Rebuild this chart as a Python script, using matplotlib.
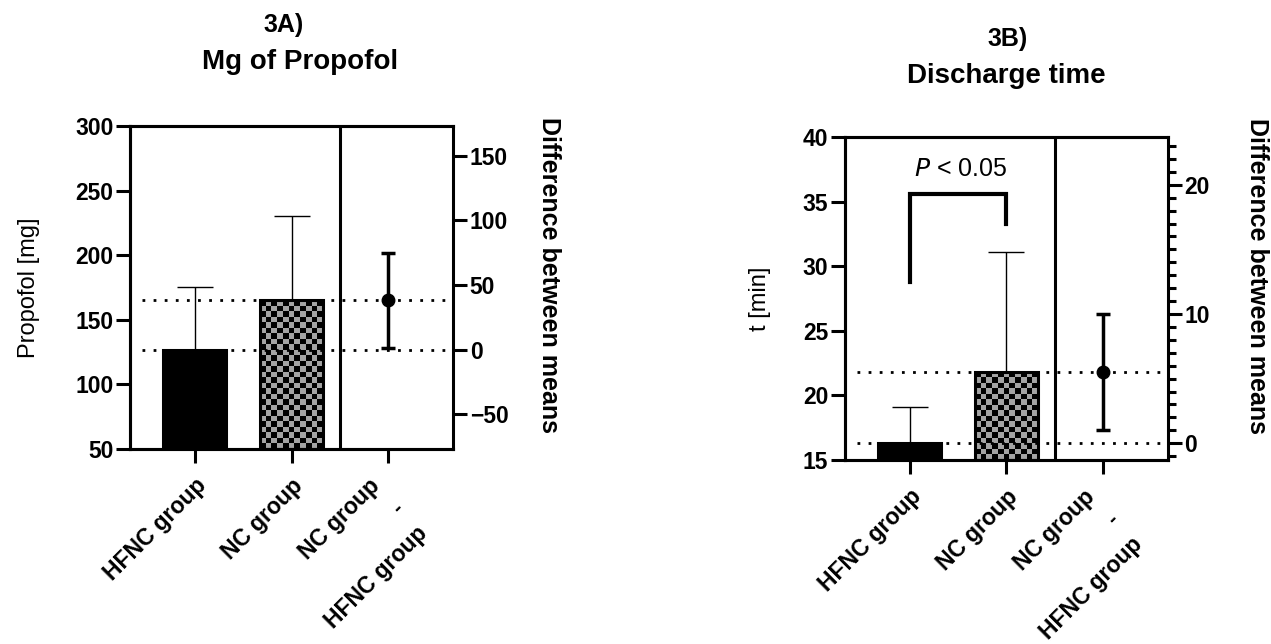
import numpy as np
import matplotlib
matplotlib.use("Agg")
import matplotlib.pyplot as plt

plt.rcParams['font.family'] = ['Liberation Sans', 'DejaVu Sans']

# Données
groups = ['HFNC group', 'NC group', 'NC group\n-\nHFNC group']

# 3A) Propofol [mg]
propofol_mean = [127, 165]
propofol_sd = [48, 65]
propofol_diff = 38
propofol_ci = [1, 75]

# 3B) Discharge time [min]
discharge_mean = [16.3, 21.8]
discharge_sd = [2.8, 9.3]
discharge_diff = 5.5
discharge_ci = [1.0, 10.0]

SPINE_LW = 2.2
XLIM = (-0.67, 2.67)


def checker_fill(ax, bar, square_px=5.5, gray='#a3a3a3'):
    """Remplit une barre avec un damier gris/noir."""
    fig = ax.figure
    fig.canvas.draw()
    x0, y0 = bar.get_x(), bar.get_y()
    x1, y1 = x0 + bar.get_width(), y0 + bar.get_height()
    p0 = ax.transData.transform((x0, y0))
    p1 = ax.transData.transform((x1, y1))
    ncol = max(1, int(round(abs(p1[0] - p0[0]) / square_px)))
    nrow = max(1, int(round(abs(p1[1] - p0[1]) / square_px)))
    board = np.indices((nrow, ncol)).sum(axis=0) % 2
    cmap = matplotlib.colors.ListedColormap(['black', gray])
    im = ax.imshow(board, extent=(x0, x1, y0, y1), cmap=cmap, aspect='auto',
                   interpolation='nearest', origin='upper', zorder=2.5)
    im.set_clip_path(bar)
    ax.set_xlim(*XLIM)


def panel(fig, rect, means, sds, diff, ci, ylim, yticks, dticks, dminor, ylabel):
    ax = fig.add_axes(rect)
    ax.set_xlim(*XLIM)
    ax.set_ylim(*ylim)

    x = [0, 1]
    # barres d'erreur (SD, vers le haut seulement)
    ax.errorbar(x, means, yerr=[[0, 0], sds], fmt='none', ecolor='black',
                elinewidth=1.0, capsize=13, capthick=1.0, zorder=1)
    heights = [m - ylim[0] for m in means]
    bars = ax.bar(x, heights, width=0.65, bottom=ylim[0],
                  color=['black', 'none'], edgecolor='black', linewidth=2.2,
                  zorder=3)

    # lignes pointillées aux moyennes
    for m in means:
        ax.plot([-0.55, XLIM[1]], [m, m], linestyle=(0, (1, 3)), color='black',
                lw=2, zorder=4)

    # séparateur
    ax.axvline(1.5, color='black', lw=SPINE_LW, zorder=5)

    ax.set_yticks(yticks)
    ax.set_xticks([0, 1, 2])
    ax.set_xticklabels(['', '', ''])
    for i, lab in enumerate(groups):
        dx = -14.5 if '\n' in lab else 0
        ax.annotate(lab, xy=(i, 0), xycoords=('data', 'axes fraction'),
                    xytext=(dx, -18), textcoords='offset points',
                    rotation=45, ha='right', va='top', rotation_mode='anchor',
                    multialignment='right', linespacing=1.6,
                    fontsize=16.5, fontweight='bold', annotation_clip=False)
    ax.tick_params(axis='y', length=10, width=SPINE_LW, labelsize=16.5, pad=2)
    ax.tick_params(axis='x', length=10, width=SPINE_LW, pad=8)
    for lab in ax.get_yticklabels():
        lab.set_fontweight('bold')
    for s in ax.spines.values():
        s.set_linewidth(SPINE_LW)
    ax.spines['right'].set_visible(False)
    ax.set_ylabel(ylabel, fontsize=17)

    # axe secondaire : différence entre moyennes
    ax2 = ax.twinx()
    ax2.set_ylim(ylim[0] - means[0], ylim[1] - means[0])
    ax2.errorbar([2], [diff], yerr=[[diff - ci[0]], [ci[1] - diff]], fmt='o',
                 color='black', ms=9, elinewidth=2.5, capsize=5, capthick=2.5,
                 zorder=6)
    ax2.set_yticks(dticks)
    if dminor is not None:
        ax2.set_yticks(dminor, minor=True)
        ax2.tick_params(axis='y', which='minor', length=6, width=SPINE_LW)
    ax2.tick_params(axis='y', which='major', length=10, width=SPINE_LW,
                    labelsize=16.5, pad=2)
    for lab in ax2.get_yticklabels():
        lab.set_fontweight('bold')
    for s in ax2.spines.values():
        s.set_linewidth(SPINE_LW)
    ax2.set_ylabel('Difference between means', rotation=270, fontsize=18,
                   fontweight='bold', va='bottom')

    checker_fill(ax, bars[1])
    return ax, ax2


fig = plt.figure(figsize=(12.71, 6.44), dpi=100)

axA, axA2 = panel(fig, [0.1023, 0.3028, 0.2541, 0.5016],
                  propofol_mean, propofol_sd, propofol_diff, propofol_ci,
                  (50, 300), [50, 100, 150, 200, 250, 300],
                  [-50, 0, 50, 100, 150], None, 'Propofol [mg]')
axA.yaxis.set_label_coords(-0.28, 0.5)
axA2.yaxis.set_label_coords(1.26, 0.54)

axB, axB2 = panel(fig, [0.6648, 0.2857, 0.2541, 0.5016],
                  discharge_mean, discharge_sd, discharge_diff, discharge_ci,
                  (15, 40), [15, 20, 25, 30, 35, 40],
                  [0, 10, 20], np.arange(-1, 24, 1), 't [min]')
axB.yaxis.set_label_coords(-0.23, 0.5)
axB2.yaxis.set_label_coords(1.24, 0.57)

# crochet de significativité
axB.plot([0, 0, 1, 1], [28.8, 35.6, 35.6, 33.3], color='black', lw=3,
         solid_joinstyle='miter', zorder=6)
axB.text(0.53, 37.5, r'$\it{P}$ < 0.05', ha='center', va='center', fontsize=18)

# titres
fig.text(284 / 1271, 1 - 25 / 644, '3A)', ha='center', va='center',
         fontsize=18, fontweight='bold')
fig.text(300 / 1271, 1 - 62 / 644, 'Mg of Propofol', ha='center', va='center',
         fontsize=20, fontweight='bold')
fig.text(1008 / 1271, 1 - 39 / 644, '3B)', ha='center', va='center',
         fontsize=18, fontweight='bold')
fig.text(1006 / 1271, 1 - 76 / 644, 'Discharge time', ha='center', va='center',
         fontsize=20, fontweight='bold')

fig.savefig('out.png', dpi=100)
